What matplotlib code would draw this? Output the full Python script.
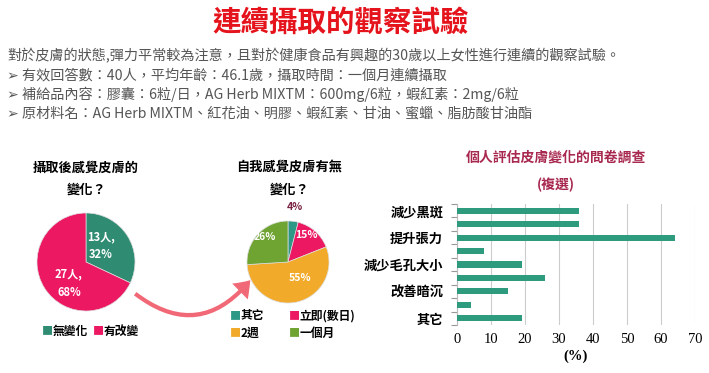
import numpy as np
import matplotlib.pyplot as plt
from matplotlib.patches import FancyArrowPatch

plt.rcParams['font.family'] = ['Noto Sans CJK TC', 'DejaVu Sans']

W, H = 709, 373

# pie 1
pie1_labels = ['無變化', '有改變']
pie1_counts = [13, 27]
pie1_pcts = [32, 68]
pie1_colors = ['#2F8C72', '#EC1862']

# pie 2
pie2_labels = ['其它', '立即(數日)', '2週', '一個月']
pie2_pcts = [4, 15, 55, 26]
pie2_colors = ['#2E9886', '#EC1862', '#F2AA2A', '#6FA433']

# bar chart
bar_values = [36, 36, 64, 8, 19, 26, 15, 4, 19]
bar_ticklabels = ['減少黑斑', '提升張力', '減少毛孔大小', '改善暗沉', '其它']
bar_xticks = [0, 10, 20, 30, 40, 50, 60, 70]

intro_lines = [
    '對於皮膚的狀態,彈力平常較為注意，且對於健康食品有興趣的30歲以上女性進行連續的觀察試驗。',
    '➢ 有效回答數：40人，平均年齡：46.1歲，攝取時間：一個月連續攝取',
    '➢ 補給品內容：膠囊：6粒/日，AG Herb MIXTM：600mg/6粒，蝦紅素：2mg/6粒',
    '➢ 原材料名：AG Herb MIXTM、紅花油、明膠、蝦紅素、甘油、蜜蠟、脂肪酸甘油酯',
]


def px_axes(fig, x0, y0, w, h):
    # top-left pixel box -> figure fraction
    return fig.add_axes([x0 / W, 1 - (y0 + h) / H, w / W, h / H])


def px_text(fig, x, y, s, **kw):
    return fig.text(x / W, 1 - y / H, s, **kw)


def draw_pie(ax, vals, colors):
    ax.pie(vals, colors=colors, startangle=90, counterclock=False,
           wedgeprops=dict(edgecolor='#dddddd', linewidth=0.5))
    ax.set_xlim(-1, 1)
    ax.set_ylim(-1, 1)
    ax.set_aspect('equal')


fig = plt.figure(figsize=(W / 100, H / 100), dpi=100)
fig.patch.set_facecolor('white')

# titles and intro
px_text(fig, 341, 23, '連續攝取的觀察試驗', fontsize=20.5, fontweight='bold',
        color='#E5131B', ha='center', va='center')
for i, line in enumerate(intro_lines):
    px_text(fig, 7, 56 + i * 19.3, line, fontsize=10.2, color='#555555',
            ha='left', va='center', family=['Noto Sans CJK TC', 'DejaVu Sans'])

# pie 1
ax1 = px_axes(fig, 37, 213, 98, 98)
draw_pie(ax1, pie1_pcts, pie1_colors)
px_text(fig, 86, 168, '攝取後感覺皮膚的', fontsize=9.5, fontweight='bold', ha='center', va='center')
px_text(fig, 86, 190, '變化？', fontsize=9.5, fontweight='bold', ha='center', va='center')
px_text(fig, 101, 237, f'{pie1_counts[0]}人,', fontsize=8, fontweight='bold', color='white', ha='center', va='center')
px_text(fig, 101, 254, f'{pie1_pcts[0]}%', fontsize=8, fontweight='bold', color='white', ha='center', va='center')
px_text(fig, 69, 274, f'{pie1_counts[1]}人,', fontsize=8, fontweight='bold', color='white', ha='center', va='center')
px_text(fig, 69, 293, f'{pie1_pcts[1]}%', fontsize=8, fontweight='bold', color='white', ha='center', va='center')
# legend 1
for i, (lab, col) in enumerate(zip(pie1_labels, pie1_colors)):
    x = 47 + i * 51
    px_text(fig, x, 331, '■', fontsize=8, color=col, ha='center', va='center')
    px_text(fig, x + 6, 331, lab, fontsize=8.5, fontweight='bold', ha='left', va='center')

# pie 2
ax2 = px_axes(fig, 247, 221, 82, 82)
draw_pie(ax2, pie2_pcts, pie2_colors)
px_text(fig, 289, 168, '自我感覺皮膚有無', fontsize=9.5, fontweight='bold', ha='center', va='center')
px_text(fig, 289, 190, '變化？', fontsize=9.5, fontweight='bold', ha='center', va='center')
px_text(fig, 295, 207, f'{pie2_pcts[0]}%', fontsize=7.5, fontweight='bold', color='#7A2040', ha='center', va='center')
px_text(fig, 306, 235, f'{pie2_pcts[1]}%', fontsize=7.5, fontweight='bold', color='white', ha='center', va='center')
px_text(fig, 300, 278, f'{pie2_pcts[2]}%', fontsize=7.5, fontweight='bold', color='white', ha='center', va='center')
px_text(fig, 265, 237, f'{pie2_pcts[3]}%', fontsize=7.5, fontweight='bold', color='white', ha='center', va='center')
# legend 2 (2x2)
for i, (lab, col) in enumerate(zip(pie2_labels, pie2_colors)):
    x = 235 + (i % 2) * 59
    y = 316 + (i // 2) * 17
    px_text(fig, x, y, '■', fontsize=8, color=col, ha='center', va='center')
    px_text(fig, x + 6, y, lab, fontsize=8.5, fontweight='bold', ha='left', va='center')

# curved arrow between pies
arrow = FancyArrowPatch((133 / W, 1 - 292 / H), (252 / W, 1 - 278 / H),
                        transform=fig.transFigure,
                        connectionstyle='arc3,rad=0.5',
                        arrowstyle='simple,head_length=1.1,head_width=1.6,tail_width=0.3',
                        mutation_scale=10, color='#EE4455', alpha=0.8, lw=0)
fig.patches.append(arrow)

# bar chart
ax3 = px_axes(fig, 457, 204, 238, 121)
ypos = np.arange(len(bar_values))
ax3.barh(ypos, bar_values, height=0.45, color='#2E9B7E', zorder=3)
ax3.set_xlim(0, 70)
ax3.set_ylim(len(bar_values) - 0.5, -0.5)
ax3.set_xticks(bar_xticks)
ax3.set_xticklabels([str(v) for v in bar_xticks], family='Liberation Serif', fontsize=10.5)
ax3.tick_params(axis='x', length=0, pad=6)
ax3.set_yticks(ypos[::2])
ax3.set_yticklabels(bar_ticklabels, fontsize=9.5, fontweight='bold')
ax3.tick_params(axis='y', which='major', length=0, pad=10)
ax3.set_yticks(np.arange(-0.5, len(bar_values)), minor=True)
ax3.tick_params(axis='y', which='minor', length=4, color='#999999', width=0.8)
ax3.grid(axis='x', color='#cccccc', linewidth=0.8, zorder=0)
for s in ['top', 'right', 'bottom']:
    ax3.spines[s].set_visible(False)
ax3.spines['left'].set_color('#bbbbbb')
ax3.set_xlabel('(%)', family='Liberation Serif', fontsize=10.5, fontweight='bold', labelpad=2)
px_text(fig, 556, 158, '個人評估皮膚變化的問卷調查', fontsize=10, fontweight='bold',
        color='#A8294F', ha='center', va='center')
px_text(fig, 556, 185, '(複選)', fontsize=10, fontweight='bold',
        color='#A8294F', ha='center', va='center')

fig.savefig('out.png', dpi=100, facecolor='white')
